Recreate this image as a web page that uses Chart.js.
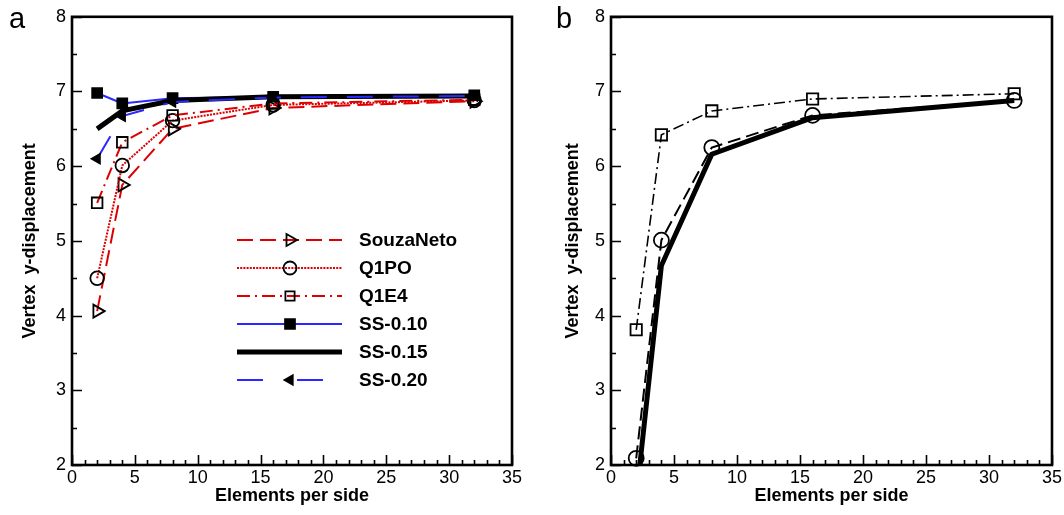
<!DOCTYPE html>
<html><head><meta charset="utf-8">
<script src="https://cdn.jsdelivr.net/npm/chart.js@4.4.0/dist/chart.umd.min.js"></script>
<style>
html,body{margin:0;padding:0;background:#fff;}
#wrap{position:relative;width:1064px;height:515px;overflow:hidden;background:#fff;}
canvas{position:absolute;top:0;}
.plabel{position:absolute;font-family:"Liberation Sans",Arial,sans-serif;font-size:29px;line-height:1;color:#000;}
</style></head><body>
<div id="wrap">
<canvas id="ca" width="532" height="515" style="left:0"></canvas>
<canvas id="cb" width="532" height="515" style="left:532px"></canvas>
<div class="plabel" style="left:9px;top:4px">a</div>
<div class="plabel" style="left:556px;top:4px">b</div>
</div>
<script>
// ---------- data ----------
const elements = [2, 4, 8, 16, 32];
const xTickValues = [0, 5, 10, 15, 20, 25, 30, 35];
const yTickValues = [2, 3, 4, 5, 6, 7, 8];
const xTitle = 'Elements per side';
const yTitle = 'Vertex  y-displacement';

// panel a
const souzaNetoA = [4.06, 5.75, 6.50, 6.78, 6.87];
const q1poA      = [4.50, 6.01, 6.61, 6.82, 6.88];
const q1e4A      = [5.51, 6.32, 6.68, 6.84, 6.89];
const ss010A     = [6.98, 6.84, 6.91, 6.93, 6.95];
const ss015A     = [6.50, 6.74, 6.88, 6.93, 6.94];
const ss020A     = [6.10, 6.67, 6.86, 6.92, 6.94];
// panel b
const q1poB  = [2.09, 5.01, 6.25, 6.68, 6.88];
const q1e4B  = [3.81, 6.42, 6.74, 6.90, 6.97];
const ss015B = [1.55, 4.67, 6.16, 6.65, 6.88];

// ---------- styles ----------
const RED = 'rgb(222,0,0)';
const BLUE = 'rgb(40,40,255)';
const FONT = '"Liberation Sans", Arial, Helvetica, sans-serif';

function pts(vals){ return elements.map((x,i)=>({x:x, y:vals[i]})); }

function ds(label, vals, s){
  return {
    label: label,
    data: pts(vals),
    borderColor: s.color,
    borderWidth: s.width,
    borderDash: s.dash || [],
    pointStyle: s.marker || false,
    pointRadius: s.marker ? s.r : 0,
    pointRotation: s.rot || 0,
    pointBorderColor: '#000',
    pointBackgroundColor: s.filled ? '#000' : 'rgba(0,0,0,0)',
    pointBorderWidth: 1.8,
    showLine: true,
    tension: 0,
    fill: false,
    order: s.order,
    clip: s.clip !== undefined ? s.clip : 3,
    legendSeg: s.legendSeg
  };
}

// ---------- helpers ----------
function drawMarker(ctx, style, x, y, r, rot, filled){
  ctx.save();
  ctx.beginPath();
  if (style === 'circle') {
    ctx.arc(x, y, r, 0, Math.PI*2);
  } else if (style === 'rect') {
    const s = r * Math.SQRT1_2;
    ctx.rect(x - s, y - s, 2*s, 2*s);
  } else if (style === 'triangle') {
    let rad = (rot||0) * Math.PI/180;
    ctx.moveTo(x + Math.sin(rad)*r, y - Math.cos(rad)*r);
    rad += 2*Math.PI/3;
    ctx.lineTo(x + Math.sin(rad)*r, y - Math.cos(rad)*r);
    rad += 2*Math.PI/3;
    ctx.lineTo(x + Math.sin(rad)*r, y - Math.cos(rad)*r);
    ctx.closePath();
  }
  if (filled) { ctx.fillStyle = '#000'; ctx.fill(); }
  ctx.lineWidth = 1.8; ctx.strokeStyle = '#000'; ctx.stroke();
  ctx.restore();
}

const framePlugin = {
  id: 'frame',
  afterDraw(chart, args, opts){
    const ctx = chart.ctx;
    const a = chart.chartArea;
    const xs = chart.scales.x, ys = chart.scales.y;
    ctx.save();
    ctx.strokeStyle = '#000';
    // ticks (inward)
    ctx.lineWidth = 1.6;
    ctx.beginPath();
    for (let v = 0; v <= 35; v += 1) {
      const px = Math.round(xs.getPixelForValue(v)) + 0.5;
      const len = (v % 5 === 0) ? 10 : 5;
      ctx.moveTo(px, a.bottom); ctx.lineTo(px, a.bottom - len);
    }
    for (let v = 2; v <= 8.001; v += 0.5) {
      const py = Math.round(ys.getPixelForValue(v)) + 0.5;
      const len = (Math.abs(v - Math.round(v)) < 1e-6) ? 10 : 5;
      ctx.moveTo(a.left, py); ctx.lineTo(a.left + len, py);
    }
    ctx.stroke();
    // frame
    ctx.lineWidth = 2.6;
    ctx.strokeRect(a.left, a.top, a.right - a.left, a.bottom - a.top);
    // legend
    const L = opts.legend;
    if (L) {
      chart.data.datasets.forEach((d, i) => {
        const y = L.rows[i];
        const seg = d.legendSeg || [[L.x1, L.x2]];
        ctx.save();
        ctx.strokeStyle = d.borderColor;
        ctx.lineWidth = d.borderWidth;
        ctx.setLineDash(d.borderDash || []);
        seg.forEach(s => {
          ctx.beginPath(); ctx.moveTo(s[0], y); ctx.lineTo(s[1], y); ctx.stroke();
        });
        ctx.restore();
        if (d.pointStyle) {
          drawMarker(ctx, d.pointStyle, L.mx, y, L.mr[i] || d.pointRadius, d.pointRotation, d.pointBackgroundColor === '#000');
        }
        ctx.fillStyle = '#000';
        ctx.font = 'bold 19px ' + FONT;
        ctx.textBaseline = 'middle';
        ctx.textAlign = 'left';
        ctx.fillText(d.label, L.tx, y + 1);
      });
    }
    ctx.restore();
  }
};

function makeOptions(yWidth, rightPad, titlePad, legend){
  return {
    responsive: false,
    animation: false,
    devicePixelRatio: 1,
    layout: { padding: { left: 0, right: rightPad, top: 14, bottom: 0 } },
    plugins: {
      legend: { display: false },
      tooltip: { enabled: false },
      frame: { legend: legend }
    },
    scales: {
      x: {
        type: 'linear', min: 0, max: 35,
        afterBuildTicks: (s) => { s.ticks = xTickValues.map(v => ({value: v})); },
        afterFit: (s) => { s.height = 50; },
        grid: { display: false, drawTicks: false },
        border: { display: false },
        ticks: { padding: 2, color: '#000', font: { family: FONT, size: 18 }, maxRotation: 0, autoSkip: false },
        title: { display: true, text: xTitle, color: '#000', font: { family: FONT, size: 18, weight: 'bold' }, padding: { top: 0, bottom: 8 } }
      },
      y: {
        type: 'linear', min: 2, max: 8,
        afterBuildTicks: (s) => { s.ticks = yTickValues.map(v => ({value: v})); },
        afterFit: (s) => { s.width = yWidth; },
        grid: { display: false, drawTicks: false },
        border: { display: false },
        ticks: { padding: 6, color: '#000', font: { family: FONT, size: 18 }, autoSkip: false },
        title: { display: true, text: yTitle, color: '#000', font: { family: FONT, size: 18, weight: 'bold' }, padding: { top: titlePad, bottom: 0 } }
      }
    }
  };
}

// ---------- chart a ----------
new Chart(document.getElementById('ca'), {
  type: 'scatter',
  data: {
    datasets: [
      ds('SouzaNeto', souzaNetoA, {color: RED, width: 2, dash: [16, 7], marker: 'triangle', r: 7.5, rot: 90, order: 5}),
      ds('Q1PO', q1poA, {color: RED, width: 2, dash: [2, 1.2], marker: 'circle', r: 6.8, order: 4}),
      ds('Q1E4', q1e4A, {color: RED, width: 2, dash: [13, 5, 2, 5], marker: 'rect', r: 7.5, order: 3}),
      ds('SS-0.10', ss010A, {color: BLUE, width: 2, marker: 'rect', r: 7, filled: true, order: 2}),
      ds('SS-0.15', ss015A, {color: '#000', width: 5, order: 1}),
      ds('SS-0.20', ss020A, {color: BLUE, width: 2, dash: [26, 20], marker: 'triangle', r: 5.5, rot: -90, filled: true, order: 0,
         legendSeg: [[237, 265], [297, 325]]})
    ]
  },
  options: makeOptions(72, 20, 19, { x1: 237, x2: 342, mx: 290, tx: 359, rows: [240, 268, 296, 324, 352, 380], mr: [7, 6.5, 6.5, 7] }),
  plugins: [framePlugin]
});

// ---------- chart b ----------
new Chart(document.getElementById('cb'), {
  type: 'scatter',
  data: {
    datasets: [
      ds('Q1PO', q1poB, {color: '#000', width: 2, dash: [13, 6], marker: 'circle', r: 7.5, order: 2}),
      ds('Q1E4', q1e4B, {color: '#000', width: 1.6, dash: [11, 4, 2, 4], marker: 'rect', r: 8, order: 1}),
      ds('SS-0.15', ss015B, {color: '#000', width: 5, order: 0, clip: 0})
    ]
  },
  options: makeOptions(79, 12, 30, { x1: 770, x2: 876, mx: 822, tx: 886, rows: [296, 323, 351], mr: [6.5, 7] }),
  plugins: [framePlugin]
});
</script>
</body></html>
